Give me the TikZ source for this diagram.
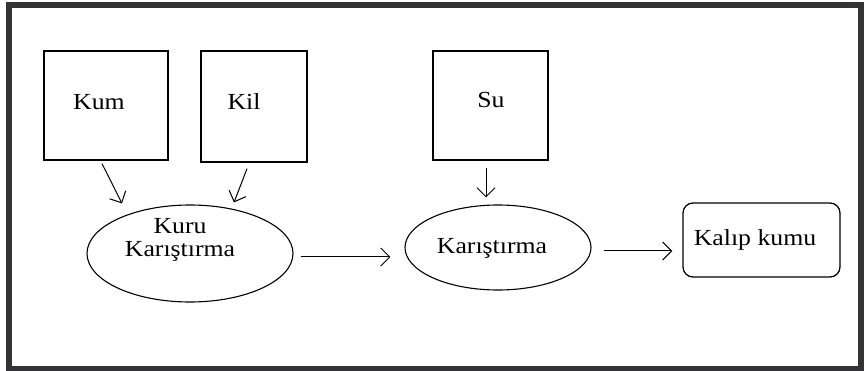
\documentclass[tikz,border=0pt]{standalone}
\usepackage{fontspec}
\setmainfont[FakeStretch=1.12]{Liberation Serif}
\usetikzlibrary{arrows.meta,shapes.geometric}
\definecolor{framec}{RGB}{51,51,56}
\tikzset{
  box/.style={draw, line width=1.3pt, inner sep=0pt, rectangle},
  oval/.style={draw, line width=1.1pt, ellipse, inner sep=0pt},
  rbox/.style={draw, line width=1.3pt, rounded corners=10pt, inner sep=0pt},
  lbl/.style={inner sep=0pt, font=\fontsize{23}{23}\selectfont, align=center},
  arr/.style={line width=1pt, -{Straight Barb[length=9pt,width=18pt,line width=1pt]}},
}
\begin{document}
\begin{tikzpicture}[x=1pt,y=-1pt]
\useasboundingbox (0,0) rectangle (864,371);
\fill[white] (0,0) rectangle (864,371);
\draw[framec, line width=6pt] (9,5) rectangle (860.5,368.5);

\node[box, minimum width=124pt, minimum height=109pt] (kum) at (106,105.5) {};
\node[box, minimum width=106pt, minimum height=111pt] (kil) at (254,106.5) {};
\node[box, minimum width=115pt, minimum height=109pt] (su) at (490.5,105.5) {};
\node[oval, minimum width=206pt, minimum height=97pt] (e1) at (190,253.5) {};
\node[oval, minimum width=186pt, minimum height=85pt] (e2) at (498,247.5) {};
\node[rbox, minimum width=157pt, minimum height=74pt] (kalip) at (761.5,240) {};

\node[lbl] (tkum) at (99,102) {Kum};
\node[lbl] (tkil) at (244,102) {Kil};
\node[lbl] (tsu) at (491,100) {Su};
\node[lbl] (tkuru) at (180,240) {Kuru\\Karıştırma};
\node[lbl] (tkar2) at (492,248) {Karıştırma};
\node[lbl] (tkalip) at (755,240) {Kalıp kumu};

\draw[arr] ([shift={(-4,3)}]kum.south) -- ([shift={(-68,-1)}]e1.north);
\draw[arr] ([shift={(-7,6)}]kil.south) -- ([shift={(44,-2)}]e1.north);
\draw[arr] ([shift={(-4.5,7)}]su.south) -- ([shift={(-12,-7)}]e2.north);
\draw[arr] ([shift={(7,3.5)}]e1.east) -- ([shift={(-14,9.5)}]e2.west);
\draw[arr] ([shift={(12,3.5)}]e2.east) -- ([shift={(-10,11)}]kalip.west);
\end{tikzpicture}
\end{document}
